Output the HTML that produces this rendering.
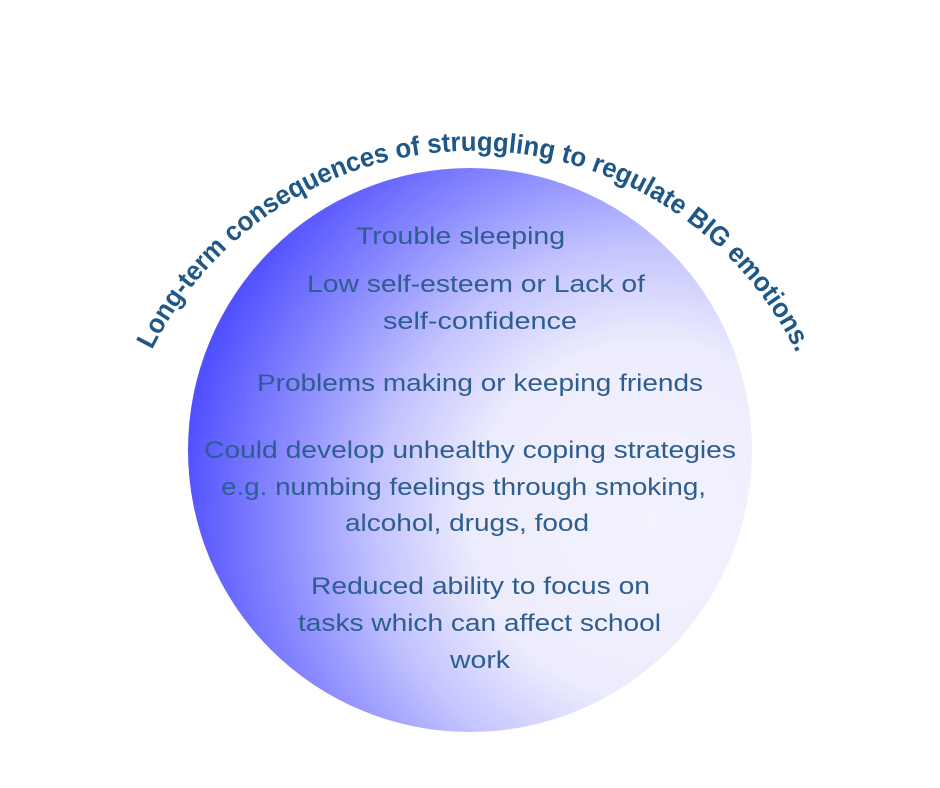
<!DOCTYPE html>
<html><head><meta charset="utf-8"><style>html,body{margin:0;padding:0;background:#fff}svg{display:block}</style></head>
<body>
<svg width="940" height="788" viewBox="0 0 940 788" xmlns="http://www.w3.org/2000/svg">
<defs>
<radialGradient id="g" cx="650" cy="520" r="470" gradientUnits="userSpaceOnUse">
<stop offset="0" stop-color="#f3f3fe"/>
<stop offset="0.38" stop-color="#ececfd"/>
<stop offset="0.58" stop-color="#c4c4ff"/>
<stop offset="0.78" stop-color="#8c8cff"/>
<stop offset="1" stop-color="#5050ff"/>
</radialGradient>
<path id="arc" d="M 152 350 A 359 359 0 0 1 795 350"/>
</defs>
<circle cx="470" cy="450" r="282" fill="url(#g)"/>
<text font-family="Liberation Sans, sans-serif" font-weight="bold" font-size="27" fill="#1f5786">
<textPath href="#arc" startOffset="0" textLength="800" lengthAdjust="spacingAndGlyphs">Long-term consequences of struggling to regulate BIG emotions.</textPath>
</text>
<g font-family="Liberation Sans, sans-serif" font-size="24" fill="#2e5d8f">
<text x="356" y="244" textLength="209" lengthAdjust="spacingAndGlyphs">Trouble sleeping</text>
<text x="307" y="292" textLength="338" lengthAdjust="spacingAndGlyphs">Low self-esteem or Lack of</text>
<text x="383" y="329" textLength="194" lengthAdjust="spacingAndGlyphs">self-confidence</text>
<text x="257" y="391" textLength="446" lengthAdjust="spacingAndGlyphs">Problems making or keeping friends</text>
<text x="204" y="458" textLength="532" lengthAdjust="spacingAndGlyphs">Could develop unhealthy coping strategies</text>
<text x="221" y="495" textLength="485" lengthAdjust="spacingAndGlyphs">e.g. numbing feelings through smoking,</text>
<text x="345" y="531" textLength="244" lengthAdjust="spacingAndGlyphs">alcohol, drugs, food</text>
<text x="311" y="594" textLength="339" lengthAdjust="spacingAndGlyphs">Reduced ability to focus on</text>
<text x="298" y="631" textLength="363" lengthAdjust="spacingAndGlyphs">tasks which can affect school</text>
<text x="450" y="668" textLength="60" lengthAdjust="spacingAndGlyphs">work</text>
</g>
</svg>
</body></html>
